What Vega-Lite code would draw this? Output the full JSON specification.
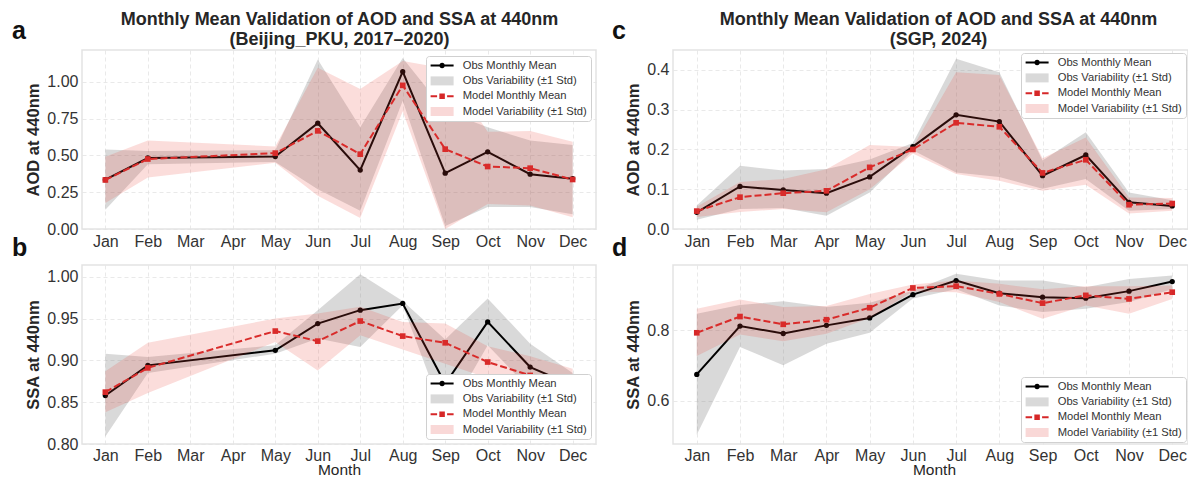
{
  "$schema": "https://vega.github.io/schema/vega-lite/v6.json",
  "background": "white",
  "padding": {"left": 11, "top": 9, "right": 0, "bottom": 0},
  "config": {
    "font": "Liberation Sans",
    "view": {"stroke": "#e3e3e3", "strokeWidth": 1.5},
    "axis": {"domain": false, "ticks": false, "grid": true, "gridColor": "#e3e3e3", "gridDash": [4, 3], "gridWidth": 0.8,
      "labelFontSize": 16, "labelColor": "#333333", "labelPadding": 4, "labelFont": "Liberation Sans",
      "titleFontSize": 16.5, "titleFontWeight": "bold", "titleColor": "#262626", "titlePadding": 5, "titleFont": "Liberation Sans"},
    "legend": {"fillColor": "white", "strokeColor": "#d0d0d0", "cornerRadius": 3, "padding": 4, "offset": 5.5,
      "labelFontSize": 11.2, "labelColor": "#333333", "labelFont": "Liberation Sans", "labelLimit": 300, "symbolSize": 100, "symbolOffset": 6.5, "labelOffset": 15, "rowPadding": 3.3,
      "symbolOpacity": 1, "symbolStrokeWidth": 0},
    "title": {"font": "Liberation Sans", "color": "#111111", "fontSize": 25, "fontWeight": "bold", "anchor": "start", "frame": "group"}
  },
  "datasets": {
    "d": [
      {"p": "a", "m": 1, "om": 0.335, "ol": 0.13, "oh": 0.54, "mm": 0.333, "ml": 0.176, "mh": 0.49},
      {"p": "a", "m": 2, "om": 0.482, "ol": 0.44, "oh": 0.53, "mm": 0.475, "ml": 0.35, "mh": 0.6},
      {"p": "a", "m": 5, "om": 0.492, "ol": 0.455, "oh": 0.535, "mm": 0.515, "ml": 0.45, "mh": 0.56},
      {"p": "a", "m": 6, "om": 0.718, "ol": 0.27, "oh": 1.15, "mm": 0.666, "ml": 0.226, "mh": 1.095},
      {"p": "a", "m": 7, "om": 0.4, "ol": 0.124, "oh": 0.69, "mm": 0.508, "ml": 0.074, "mh": 0.95},
      {"p": "a", "m": 8, "om": 1.068, "ol": 0.87, "oh": 1.16, "mm": 0.975, "ml": 0.8, "mh": 1.14},
      {"p": "a", "m": 9, "om": 0.379, "ol": 0.02, "oh": 0.8, "mm": 0.542, "ml": 0.0, "mh": 1.09},
      {"p": "a", "m": 10, "om": 0.524, "ol": 0.15, "oh": 0.69, "mm": 0.424, "ml": 0.17, "mh": 0.66},
      {"p": "a", "m": 11, "om": 0.372, "ol": 0.15, "oh": 0.6, "mm": 0.413, "ml": 0.16, "mh": 0.665},
      {"p": "a", "m": 12, "om": 0.341, "ol": 0.1, "oh": 0.571, "mm": 0.336, "ml": 0.08, "mh": 0.593},
      {"p": "b", "m": 1, "om": 0.858, "ol": 0.809, "oh": 0.908, "mm": 0.862, "ml": 0.838, "mh": 0.887},
      {"p": "b", "m": 2, "om": 0.894, "ol": 0.885, "oh": 0.904, "mm": 0.891, "ml": 0.861, "mh": 0.921},
      {"p": "b", "m": 5, "om": 0.912, "ol": 0.908, "oh": 0.918, "mm": 0.935, "ml": 0.922, "mh": 0.95},
      {"p": "b", "m": 6, "om": 0.944, "ol": 0.926, "oh": 0.96, "mm": 0.923, "ml": 0.888, "mh": 0.956},
      {"p": "b", "m": 7, "om": 0.96, "ol": 0.916, "oh": 1.003, "mm": 0.947, "ml": 0.93, "mh": 0.964},
      {"p": "b", "m": 8, "om": 0.968, "ol": 0.966, "oh": 0.971, "mm": 0.929, "ml": 0.913, "mh": 0.946},
      {"p": "b", "m": 9, "om": 0.872, "ol": 0.83, "oh": 0.925, "mm": 0.921, "ml": 0.896, "mh": 0.944},
      {"p": "b", "m": 10, "om": 0.946, "ol": 0.918, "oh": 0.974, "mm": 0.898, "ml": 0.879, "mh": 0.917},
      {"p": "b", "m": 11, "om": 0.892, "ol": 0.865, "oh": 0.92, "mm": 0.882, "ml": 0.86, "mh": 0.905},
      {"p": "b", "m": 12, "om": 0.87, "ol": 0.855, "oh": 0.885, "mm": 0.865, "ml": 0.84, "mh": 0.89},
      {"p": "c", "m": 1, "om": 0.042, "ol": 0.023, "oh": 0.059, "mm": 0.045, "ml": 0.03, "mh": 0.056},
      {"p": "c", "m": 2, "om": 0.107, "ol": 0.05, "oh": 0.159, "mm": 0.08, "ml": 0.043, "mh": 0.118},
      {"p": "c", "m": 3, "om": 0.098, "ol": 0.053, "oh": 0.147, "mm": 0.09, "ml": 0.05, "mh": 0.126},
      {"p": "c", "m": 4, "om": 0.09, "ol": 0.033, "oh": 0.151, "mm": 0.096, "ml": 0.042, "mh": 0.15},
      {"p": "c", "m": 5, "om": 0.131, "ol": 0.092, "oh": 0.175, "mm": 0.155, "ml": 0.1, "mh": 0.211},
      {"p": "c", "m": 6, "om": 0.207, "ol": 0.198, "oh": 0.216, "mm": 0.2, "ml": 0.19, "mh": 0.206},
      {"p": "c", "m": 7, "om": 0.287, "ol": 0.142, "oh": 0.428, "mm": 0.267, "ml": 0.138, "mh": 0.394},
      {"p": "c", "m": 8, "om": 0.27, "ol": 0.131, "oh": 0.394, "mm": 0.257, "ml": 0.121, "mh": 0.387},
      {"p": "c", "m": 9, "om": 0.134, "ol": 0.101, "oh": 0.172, "mm": 0.141, "ml": 0.096, "mh": 0.178},
      {"p": "c", "m": 10, "om": 0.186, "ol": 0.126, "oh": 0.243, "mm": 0.174, "ml": 0.111, "mh": 0.23},
      {"p": "c", "m": 11, "om": 0.067, "ol": 0.046, "oh": 0.092, "mm": 0.061, "ml": 0.039, "mh": 0.079},
      {"p": "c", "m": 12, "om": 0.058, "ol": 0.05, "oh": 0.072, "mm": 0.064, "ml": 0.046, "mh": 0.078},
      {"p": "d", "m": 1, "om": 0.675, "ol": 0.504, "oh": 0.847, "mm": 0.793, "ml": 0.727, "mh": 0.861},
      {"p": "d", "m": 2, "om": 0.812, "ol": 0.753, "oh": 0.872, "mm": 0.839, "ml": 0.788, "mh": 0.887},
      {"p": "d", "m": 3, "om": 0.791, "ol": 0.701, "oh": 0.882, "mm": 0.817, "ml": 0.769, "mh": 0.866},
      {"p": "d", "m": 4, "om": 0.814, "ol": 0.762, "oh": 0.866, "mm": 0.83, "ml": 0.79, "mh": 0.869},
      {"p": "d", "m": 5, "om": 0.835, "ol": 0.793, "oh": 0.878, "mm": 0.864, "ml": 0.835, "mh": 0.903},
      {"p": "d", "m": 6, "om": 0.901, "ol": 0.89, "oh": 0.912, "mm": 0.92, "ml": 0.91, "mh": 0.93},
      {"p": "d", "m": 7, "om": 0.941, "ol": 0.916, "oh": 0.96, "mm": 0.925, "ml": 0.908, "mh": 0.941},
      {"p": "d", "m": 8, "om": 0.905, "ol": 0.87, "oh": 0.941, "mm": 0.903, "ml": 0.88, "mh": 0.932},
      {"p": "d", "m": 9, "om": 0.894, "ol": 0.852, "oh": 0.941, "mm": 0.877, "ml": 0.833, "mh": 0.916},
      {"p": "d", "m": 10, "om": 0.891, "ol": 0.861, "oh": 0.922, "mm": 0.899, "ml": 0.87, "mh": 0.925},
      {"p": "d", "m": 11, "om": 0.911, "ol": 0.88, "oh": 0.945, "mm": 0.889, "ml": 0.847, "mh": 0.925},
      {"p": "d", "m": 12, "om": 0.938, "ol": 0.916, "oh": 0.955, "mm": 0.908, "ml": 0.889, "mh": 0.927}
    ]
  },
  "columns": 2,
  "spacing": {"row": 36, "column": 77},
  "bounds": "flush",
  "resolve": {"scale": {"color": "independent", "shape": "independent"}, "legend": {"color": "independent", "shape": "independent"}},
  "concat": [
    {
      "width": 514, "height": 179,
      "title": {"text": "a", "dx": -70, "dy": 34, "offset": 0},
      "data": {"name": "d"},
      "transform": [{"filter": "datum.p == 'a'"}],
      "resolve": {"axis": {"x": "independent"}},
      "layer": [
        {"mark": {"type": "area", "opacity": 0.3, "color": "#808080"},
          "encoding": {
            "x": {"field": "m", "type": "quantitative", "scale": {"domain": [0.45, 12.55], "nice": false, "zero": false},
              "axis": {"values": [1, 2, 3, 4, 5, 6, 7, 8, 9, 10, 11, 12], "labelExpr": "['Jan','Feb','Mar','Apr','May','Jun','Jul','Aug','Sep','Oct','Nov','Dec'][datum.value - 1]", "title": null}},
            "y": {"field": "ol", "type": "quantitative", "title": "AOD at 440nm", "scale": {"domain": [0, 1.215], "nice": false, "zero": false}, "axis": {"values": [0, 0.25, 0.5, 0.75, 1.0], "format": ".2f"}},
            "y2": {"field": "oh"}}},
        {"mark": {"type": "line", "strokeWidth": 2, "color": "#000000"},
          "encoding": {"x": {"field": "m", "type": "quantitative", "axis": null}, "y": {"field": "om", "type": "quantitative", "title": "AOD at 440nm"}}},
        {"mark": {"type": "point", "shape": "circle", "filled": true, "size": 28, "opacity": 1, "color": "#000000"},
          "encoding": {"x": {"field": "m", "type": "quantitative", "axis": null}, "y": {"field": "om", "type": "quantitative", "title": "AOD at 440nm"}}},
        {"mark": {"type": "line", "strokeWidth": 2, "strokeDash": [7, 3], "color": "#d62728"},
          "encoding": {"x": {"field": "m", "type": "quantitative", "axis": null}, "y": {"field": "mm", "type": "quantitative", "title": "AOD at 440nm"}}},
        {"mark": {"type": "point", "shape": "square", "filled": true, "size": 32, "opacity": 1, "color": "#d62728"},
          "encoding": {"x": {"field": "m", "type": "quantitative", "axis": null}, "y": {"field": "mm", "type": "quantitative", "title": "AOD at 440nm"}}},
        {"mark": {"type": "area", "opacity": 0.18, "color": "#e8413a"},
          "encoding": {"x": {"field": "m", "type": "quantitative", "axis": {"orient": "top", "labels": false, "ticks": false, "grid": false, "domain": false, "title": ["Monthly Mean Validation of AOD and SSA at 440nm", "(Beijing_PKU, 2017–2020)"], "titleFontSize": 18, "titleLineHeight": 20, "titlePadding": 2}},
            "y": {"field": "ml", "type": "quantitative", "title": "AOD at 440nm"}, "y2": {"field": "mh"}}},
        {"mark": {"type": "point", "filled": true, "opacity": 0},
          "encoding": {
            "color": {"datum": "Obs Monthly Mean", "type": "nominal", "scale": {"domain": ["Obs Monthly Mean", "Obs Variability (±1 Std)", "Model Monthly Mean", "Model Variability (±1 Std)"], "range": ["#000000", "#d9d9d9", "#d62728", "#f9d8d7"]}, "legend": {"title": null, "orient": "top-right"}},
            "shape": {"datum": "Obs Monthly Mean", "type": "nominal", "scale": {"domain": ["Obs Monthly Mean", "Obs Variability (±1 Std)", "Model Monthly Mean", "Model Variability (±1 Std)"], "range": ["M-2.3,-0.2H2.3V0.2H-2.3Z M0.55,0A0.55,0.55 0 1 1 -0.55,0A0.55,0.55 0 1 1 0.55,0Z", "M-2.3,-0.9H2.3V0.9H-2.3Z", "M-2.3,-0.2H-1.0V0.2H-2.3Z M1.0,-0.2H2.3V0.2H1.0Z M-0.55,-0.55H0.55V0.55H-0.55Z", "M-2.3,-0.9H2.3V0.9H-2.3Z"]}, "legend": {"title": null, "orient": "top-right"}}}}
      ]
    },
    {
      "width": 515, "height": 179,
      "title": {"text": "c", "dx": -61, "dy": 34, "offset": 0},
      "data": {"name": "d"},
      "transform": [{"filter": "datum.p == 'c'"}],
      "resolve": {"axis": {"x": "independent"}},
      "layer": [
        {"mark": {"type": "area", "opacity": 0.3, "color": "#808080"},
          "encoding": {
            "x": {"field": "m", "type": "quantitative", "scale": {"domain": [0.45, 12.365], "nice": false, "zero": false},
              "axis": {"values": [1, 2, 3, 4, 5, 6, 7, 8, 9, 10, 11, 12], "labelExpr": "['Jan','Feb','Mar','Apr','May','Jun','Jul','Aug','Sep','Oct','Nov','Dec'][datum.value - 1]", "title": null}},
            "y": {"field": "ol", "type": "quantitative", "title": "AOD at 440nm", "scale": {"domain": [0, 0.45], "nice": false, "zero": false}, "axis": {"values": [0, 0.1, 0.2, 0.3, 0.4], "format": ".1f"}},
            "y2": {"field": "oh"}}},
        {"mark": {"type": "line", "strokeWidth": 2, "color": "#000000"},
          "encoding": {"x": {"field": "m", "type": "quantitative", "axis": null}, "y": {"field": "om", "type": "quantitative", "title": "AOD at 440nm"}}},
        {"mark": {"type": "point", "shape": "circle", "filled": true, "size": 28, "opacity": 1, "color": "#000000"},
          "encoding": {"x": {"field": "m", "type": "quantitative", "axis": null}, "y": {"field": "om", "type": "quantitative", "title": "AOD at 440nm"}}},
        {"mark": {"type": "line", "strokeWidth": 2, "strokeDash": [7, 3], "color": "#d62728"},
          "encoding": {"x": {"field": "m", "type": "quantitative", "axis": null}, "y": {"field": "mm", "type": "quantitative", "title": "AOD at 440nm"}}},
        {"mark": {"type": "point", "shape": "square", "filled": true, "size": 32, "opacity": 1, "color": "#d62728"},
          "encoding": {"x": {"field": "m", "type": "quantitative", "axis": null}, "y": {"field": "mm", "type": "quantitative", "title": "AOD at 440nm"}}},
        {"mark": {"type": "area", "opacity": 0.18, "color": "#e8413a"},
          "encoding": {"x": {"field": "m", "type": "quantitative", "axis": {"orient": "top", "labels": false, "ticks": false, "grid": false, "domain": false, "title": ["Monthly Mean Validation of AOD and SSA at 440nm", "(SGP, 2024)"], "titleFontSize": 18, "titleLineHeight": 20, "titlePadding": 2, "titleX": 265}},
            "y": {"field": "ml", "type": "quantitative", "title": "AOD at 440nm"}, "y2": {"field": "mh"}}},
        {"mark": {"type": "point", "filled": true, "opacity": 0},
          "encoding": {
            "color": {"datum": "Obs Monthly Mean", "type": "nominal", "scale": {"domain": ["Obs Monthly Mean", "Obs Variability (±1 Std)", "Model Monthly Mean", "Model Variability (±1 Std)"], "range": ["#000000", "#d9d9d9", "#d62728", "#f9d8d7"]}, "legend": {"title": null, "orient": "top-right", "offset": 2.5}},
            "shape": {"datum": "Obs Monthly Mean", "type": "nominal", "scale": {"domain": ["Obs Monthly Mean", "Obs Variability (±1 Std)", "Model Monthly Mean", "Model Variability (±1 Std)"], "range": ["M-2.3,-0.2H2.3V0.2H-2.3Z M0.55,0A0.55,0.55 0 1 1 -0.55,0A0.55,0.55 0 1 1 0.55,0Z", "M-2.3,-0.9H2.3V0.9H-2.3Z", "M-2.3,-0.2H-1.0V0.2H-2.3Z M1.0,-0.2H2.3V0.2H1.0Z M-0.55,-0.55H0.55V0.55H-0.55Z", "M-2.3,-0.9H2.3V0.9H-2.3Z"]}, "legend": {"title": null, "orient": "top-right", "offset": 2.5}}}}
      ]
    },
    {
      "width": 514, "height": 179,
      "title": {"text": "b", "dx": -70, "offset": 4},
      "data": {"name": "d"},
      "transform": [{"filter": "datum.p == 'b'"}],
      "layer": [
        {"mark": {"type": "area", "opacity": 0.3, "color": "#808080"},
          "encoding": {
            "x": {"field": "m", "type": "quantitative", "scale": {"domain": [0.45, 12.55], "nice": false, "zero": false},
              "axis": {"values": [1, 2, 3, 4, 5, 6, 7, 8, 9, 10, 11, 12], "labelExpr": "['Jan','Feb','Mar','Apr','May','Jun','Jul','Aug','Sep','Oct','Nov','Dec'][datum.value - 1]", "title": "Month", "titleFontWeight": "normal", "titleFontSize": 15.5, "titlePadding": -1, "labelPadding": 3}},
            "y": {"field": "ol", "type": "quantitative", "title": "SSA at 440nm", "scale": {"domain": [0.8, 1.014], "nice": false, "zero": false}, "axis": {"values": [0.8, 0.85, 0.9, 0.95, 1.0], "format": ".2f"}},
            "y2": {"field": "oh"}}},
        {"mark": {"type": "line", "strokeWidth": 2, "color": "#000000"},
          "encoding": {"x": {"field": "m", "type": "quantitative"}, "y": {"field": "om", "type": "quantitative", "title": "SSA at 440nm"}}},
        {"mark": {"type": "point", "shape": "circle", "filled": true, "size": 28, "opacity": 1, "color": "#000000"},
          "encoding": {"x": {"field": "m", "type": "quantitative"}, "y": {"field": "om", "type": "quantitative", "title": "SSA at 440nm"}}},
        {"mark": {"type": "line", "strokeWidth": 2, "strokeDash": [7, 3], "color": "#d62728"},
          "encoding": {"x": {"field": "m", "type": "quantitative"}, "y": {"field": "mm", "type": "quantitative", "title": "SSA at 440nm"}}},
        {"mark": {"type": "point", "shape": "square", "filled": true, "size": 32, "opacity": 1, "color": "#d62728"},
          "encoding": {"x": {"field": "m", "type": "quantitative"}, "y": {"field": "mm", "type": "quantitative", "title": "SSA at 440nm"}}},
        {"mark": {"type": "area", "opacity": 0.18, "color": "#e8413a"},
          "encoding": {"x": {"field": "m", "type": "quantitative"}, "y": {"field": "ml", "type": "quantitative", "title": "SSA at 440nm"}, "y2": {"field": "mh"}}},
        {"mark": {"type": "point", "filled": true, "opacity": 0},
          "encoding": {
            "color": {"datum": "Obs Monthly Mean", "type": "nominal", "scale": {"domain": ["Obs Monthly Mean", "Obs Variability (±1 Std)", "Model Monthly Mean", "Model Variability (±1 Std)"], "range": ["#000000", "#d9d9d9", "#d62728", "#f9d8d7"]}, "legend": {"title": null, "orient": "bottom-right"}},
            "shape": {"datum": "Obs Monthly Mean", "type": "nominal", "scale": {"domain": ["Obs Monthly Mean", "Obs Variability (±1 Std)", "Model Monthly Mean", "Model Variability (±1 Std)"], "range": ["M-2.3,-0.2H2.3V0.2H-2.3Z M0.55,0A0.55,0.55 0 1 1 -0.55,0A0.55,0.55 0 1 1 0.55,0Z", "M-2.3,-0.9H2.3V0.9H-2.3Z", "M-2.3,-0.2H-1.0V0.2H-2.3Z M1.0,-0.2H2.3V0.2H1.0Z M-0.55,-0.55H0.55V0.55H-0.55Z", "M-2.3,-0.9H2.3V0.9H-2.3Z"]}, "legend": {"title": null, "orient": "bottom-right"}}}}
      ]
    },
    {
      "width": 515, "height": 179,
      "title": {"text": "d", "dx": -61, "offset": 4},
      "data": {"name": "d"},
      "transform": [{"filter": "datum.p == 'd'"}],
      "layer": [
        {"mark": {"type": "area", "opacity": 0.3, "color": "#808080"},
          "encoding": {
            "x": {"field": "m", "type": "quantitative", "scale": {"domain": [0.45, 12.365], "nice": false, "zero": false},
              "axis": {"values": [1, 2, 3, 4, 5, 6, 7, 8, 9, 10, 11, 12], "labelExpr": "['Jan','Feb','Mar','Apr','May','Jun','Jul','Aug','Sep','Oct','Nov','Dec'][datum.value - 1]", "title": "Month", "titleFontWeight": "normal", "titleFontSize": 15.5, "titlePadding": -1, "labelPadding": 3, "titleX": 261}},
            "y": {"field": "ol", "type": "quantitative", "title": "SSA at 440nm", "scale": {"domain": [0.478, 0.985], "nice": false, "zero": false}, "axis": {"values": [0.6, 0.8], "format": ".1f"}},
            "y2": {"field": "oh"}}},
        {"mark": {"type": "line", "strokeWidth": 2, "color": "#000000"},
          "encoding": {"x": {"field": "m", "type": "quantitative"}, "y": {"field": "om", "type": "quantitative", "title": "SSA at 440nm"}}},
        {"mark": {"type": "point", "shape": "circle", "filled": true, "size": 28, "opacity": 1, "color": "#000000"},
          "encoding": {"x": {"field": "m", "type": "quantitative"}, "y": {"field": "om", "type": "quantitative", "title": "SSA at 440nm"}}},
        {"mark": {"type": "line", "strokeWidth": 2, "strokeDash": [7, 3], "color": "#d62728"},
          "encoding": {"x": {"field": "m", "type": "quantitative"}, "y": {"field": "mm", "type": "quantitative", "title": "SSA at 440nm"}}},
        {"mark": {"type": "point", "shape": "square", "filled": true, "size": 32, "opacity": 1, "color": "#d62728"},
          "encoding": {"x": {"field": "m", "type": "quantitative"}, "y": {"field": "mm", "type": "quantitative", "title": "SSA at 440nm"}}},
        {"mark": {"type": "area", "opacity": 0.18, "color": "#e8413a"},
          "encoding": {"x": {"field": "m", "type": "quantitative"}, "y": {"field": "ml", "type": "quantitative", "title": "SSA at 440nm"}, "y2": {"field": "mh"}}},
        {"mark": {"type": "point", "filled": true, "opacity": 0},
          "encoding": {
            "color": {"datum": "Obs Monthly Mean", "type": "nominal", "scale": {"domain": ["Obs Monthly Mean", "Obs Variability (±1 Std)", "Model Monthly Mean", "Model Variability (±1 Std)"], "range": ["#000000", "#d9d9d9", "#d62728", "#f9d8d7"]}, "legend": {"title": null, "orient": "bottom-right", "offset": 2.5}},
            "shape": {"datum": "Obs Monthly Mean", "type": "nominal", "scale": {"domain": ["Obs Monthly Mean", "Obs Variability (±1 Std)", "Model Monthly Mean", "Model Variability (±1 Std)"], "range": ["M-2.3,-0.2H2.3V0.2H-2.3Z M0.55,0A0.55,0.55 0 1 1 -0.55,0A0.55,0.55 0 1 1 0.55,0Z", "M-2.3,-0.9H2.3V0.9H-2.3Z", "M-2.3,-0.2H-1.0V0.2H-2.3Z M1.0,-0.2H2.3V0.2H1.0Z M-0.55,-0.55H0.55V0.55H-0.55Z", "M-2.3,-0.9H2.3V0.9H-2.3Z"]}, "legend": {"title": null, "orient": "bottom-right", "offset": 2.5}}}}
      ]
    }
  ]
}
